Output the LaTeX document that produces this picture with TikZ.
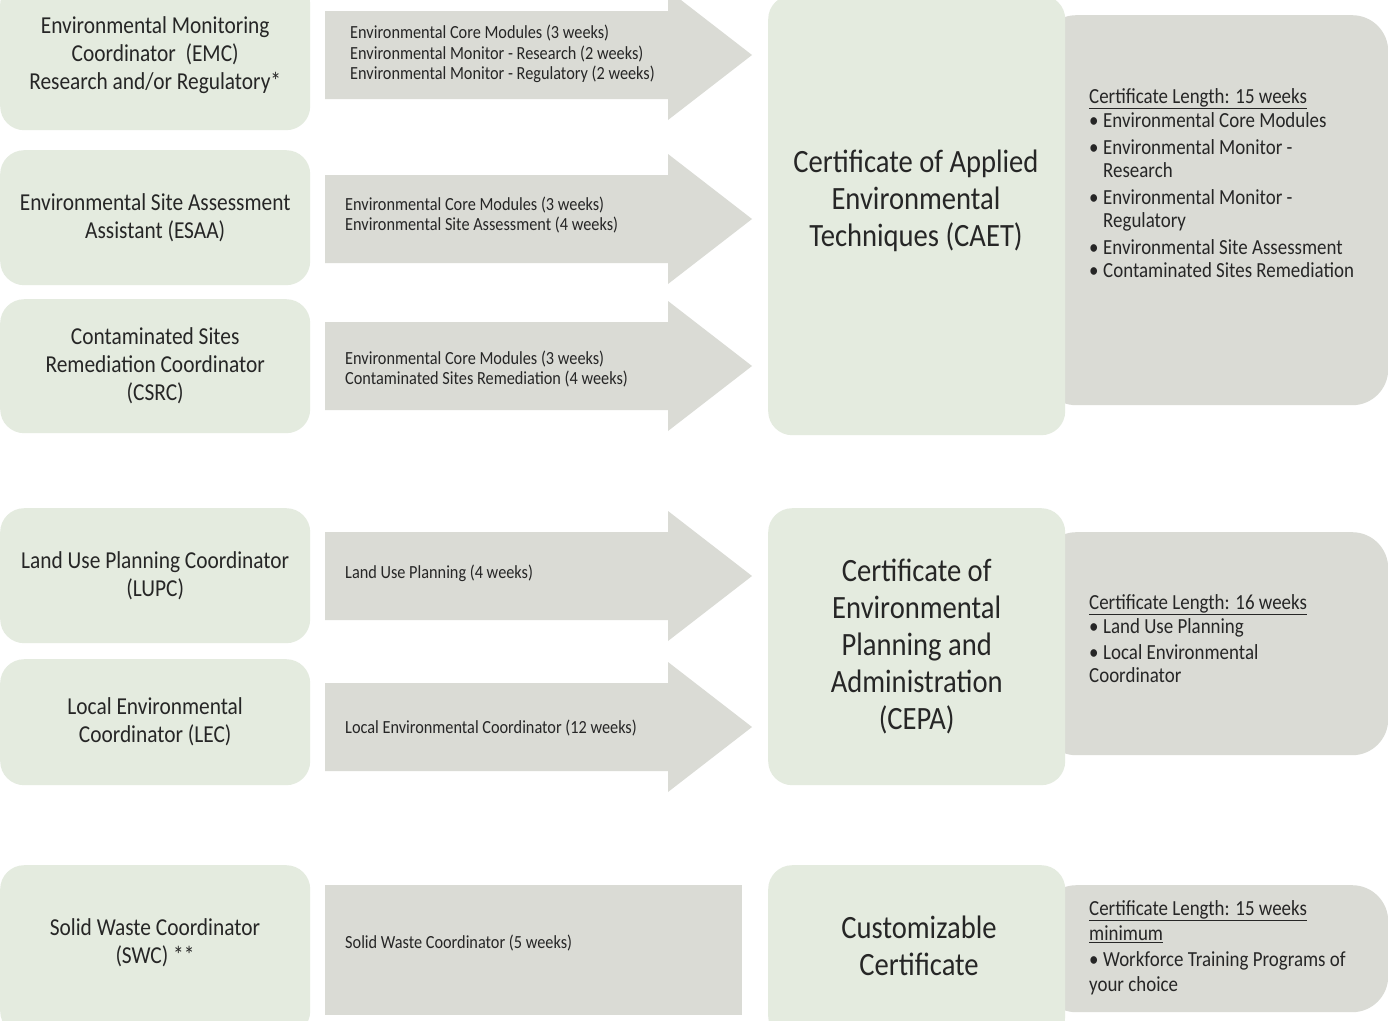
\documentclass[tikz,border=0pt]{standalone}
\usepackage{fontspec}
\setmainfont{Carlito}[FakeStretch=0.88]
\definecolor{boxgreen}{HTML}{E4EBDF}
\definecolor{boxgray}{HTML}{DADBD5}
\definecolor{txt}{HTML}{262626}
\tikzset{
  gbox/.style={fill=boxgreen, draw=none, rounded corners=24pt, anchor=north west, inner sep=0pt, align=center, text=txt},
  infobox/.style={fill=boxgray, draw=none, rounded corners=36pt, anchor=north west, inner sep=0pt},
  rolefont/.style={font=\fontsize{24.3}{28}\selectfont},
  certfont/.style={font=\fontsize{32.5}{37}\selectfont},
  arrowtext/.style={anchor=west, inner sep=0pt, align=left, text=txt, font=\fontsize{18.5}{20.5}\selectfont},
  infotext/.style={anchor=north west, inner sep=0pt, align=left, text=txt, font=\fontsize{21.5}{23.5}\selectfont},
  barrow/.pic={
    \fill[boxgray] (0,-44) -- (343,-44) -- (343,-65) -- (427,0) -- (343,65) -- (343,44) -- (0,44) -- cycle;
    \coordinate (-tail) at (0,0);
    \coordinate (-tip) at (427,0);
  }
}
\newcommand{\bul}{\makebox[14pt][l]{•}}
\begin{document}
\begin{tikzpicture}[x=1pt,y=-1pt]
\useasboundingbox (0,0) rectangle (1388,1020);
\fill[white] (0,0) rectangle (1388,1020);

% info boxes (behind certificate boxes)
\node[infobox, minimum width=348pt, minimum height=390pt] (caetinfo) at (1040,15) {};
\node[infobox, minimum width=348pt, minimum height=223pt] (cepainfo) at (1040,532) {};
\node[infobox, minimum width=348pt, minimum height=127pt] (custinfo) at (1040,885) {};

% role boxes
\node[gbox, rolefont, minimum width=310pt, minimum height=150pt] (emc) at (0,-20) {Environmental Monitoring\\Coordinator~ (EMC)\\Research and/or Regulatory*};
\node[gbox, rolefont, minimum width=310pt, minimum height=135pt] (esaa) at (0,150) {Environmental Site Assessment\\Assistant (ESAA)};
\node[gbox, rolefont, minimum width=310pt, minimum height=134pt] (csrc) at (0,299) {Contaminated Sites\\Remediation Coordinator\\(CSRC)};
\node[gbox, rolefont, minimum width=310pt, minimum height=135pt] (lupc) at (0,508) {Land Use Planning Coordinator\\(LUPC)};
\node[gbox, rolefont, minimum width=310pt, minimum height=126pt] (lec) at (0,659) {Local Environmental\\Coordinator (LEC)};
\node[gbox, rolefont, minimum width=310pt, minimum height=170pt] (swc) at (0,865) {};
\node[text=txt, rolefont, align=center] (swct) at (155,943) {Solid Waste Coordinator\\(SWC) **};

% block arrows
\pic (a1) at (325,55) {barrow};
\pic (a2) at (325,219) {barrow};
\pic (a3) at (325,366) {barrow};
\pic (a4) at (325,576) {barrow};
\pic (a5) at (325,727) {barrow};
\node[fill=boxgray, anchor=north west, minimum width=417pt, minimum height=130pt, inner sep=0pt] (a6) at (325,885) {};

\node[arrowtext] (a1t) at (350,54) {Environmental Core Modules (3 weeks)\\Environmental Monitor - Research (2 weeks)\\Environmental Monitor - Regulatory (2 weeks)};
\node[arrowtext] (a2t) at (345,215) {Environmental Core Modules (3 weeks)\\Environmental Site Assessment (4 weeks)};
\node[arrowtext] (a3t) at (345,369) {Environmental Core Modules (3 weeks)\\Contaminated Sites Remediation (4 weeks)};
\node[arrowtext] (a4t) at (345,573) {Land Use Planning (4 weeks)};
\node[arrowtext] (a5t) at (345,728) {Local Environmental Coordinator (12 weeks)};
\node[arrowtext] (a6t) at (345,943) {Solid Waste Coordinator (5 weeks)};

% certificate boxes
\node[gbox, minimum width=297pt, minimum height=440pt] (caet) at (768,-5) {};
\node[certfont, text=txt, align=center] (caett) at (916,201) {Certificate of Applied\\Environmental\\Techniques (CAET)};
\node[gbox, certfont, minimum width=297pt, minimum height=277pt] (cepa) at (768,508) {Certificate of\\Environmental\\Planning and\\Administration\\(CEPA)};
\node[gbox, minimum width=297pt, minimum height=175pt] (cust) at (768,865) {};
\node[certfont, text=txt, align=center] (custt) at (919,946) {Customizable\\Certificate};

% info texts
\node[infotext] (caetit) at (1089,88) {\underline{Certificate Length: 15 weeks}\\[1pt]
\bul Environmental Core Modules\\[3pt]
\bul Environmental Monitor -\\\hspace*{14pt}Research\\[3pt]
\bul Environmental Monitor -\\\hspace*{14pt}Regulatory\\[3pt]
\bul Environmental Site Assessment\\
\bul Contaminated Sites Remediation};
\node[infotext] (cepait) at (1089,594) {\underline{Certificate Length: 16 weeks}\\[1pt]
\bul Land Use Planning\\[2pt]
\bul Local Environmental\\Coordinator};
\node[infotext, font=\fontsize{21.5}{25.5}\selectfont] (custit) at (1089,900) {\underline{Certificate Length: 15 weeks}\\
\underline{minimum}\\
\bul Workforce Training Programs of\\your choice};
\end{tikzpicture}
\end{document}
